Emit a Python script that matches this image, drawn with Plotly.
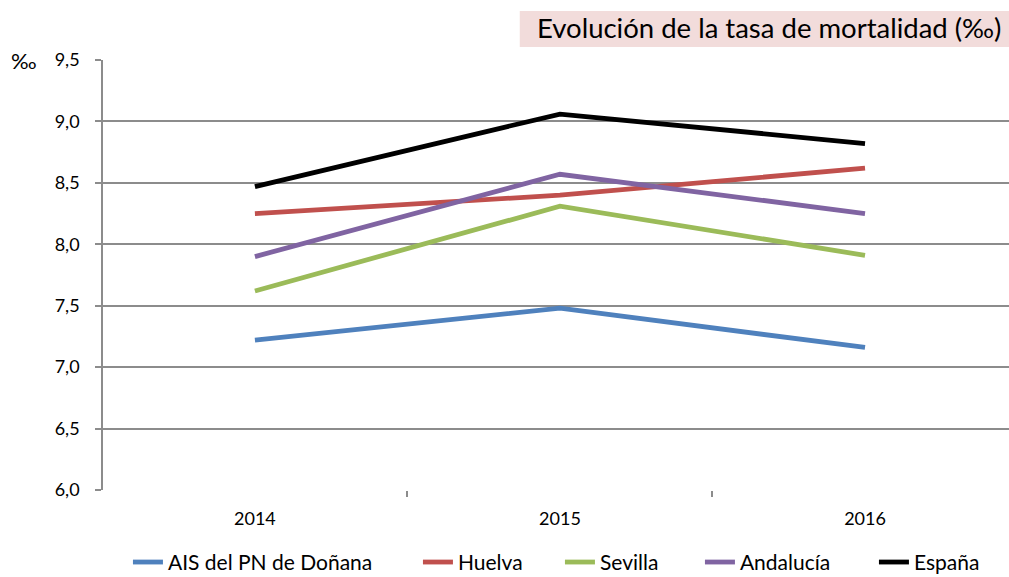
import plotly.graph_objects as go

years = ["2014", "2015", "2016"]
series_names = ["AIS del PN de Doñana", "Huelva", "Sevilla", "Andalucía", "España"]
ais = [7.22, 7.48, 7.16]
huelva = [8.25, 8.40, 8.62]
sevilla = [7.62, 8.31, 7.91]
andalucia = [7.90, 8.57, 8.25]
espana = [8.47, 9.06, 8.82]
y_ticks = [6.0, 6.5, 7.0, 7.5, 8.0, 8.5, 9.0, 9.5]

colors = ["#4F81BD", "#C0504D", "#9BBB59", "#8064A2", "#000000"]
legend_widths = [245, 97, 95, 129, 90]
values = [ais, huelva, sevilla, andalucia, espana]

FONT = "Lato"
fig = go.Figure()
for name, vals, col, lw in zip(series_names, values, colors, legend_widths):
    fig.add_trace(go.Scatter(x=years, y=vals, name=name, mode="lines",
                             line=dict(color=col, width=4.8), legendwidth=lw))

fig.update_layout(
    template="none",
    width=1009, height=577,
    margin=dict(l=103, r=0, t=60, b=87, autoexpand=False),
    paper_bgcolor="white", plot_bgcolor="white",
    separators=",.",
    font=dict(family=FONT, size=16, color="#000000"),
    showlegend=True,
    legend=dict(orientation="h", xref="container", yref="paper",
                x=0.1268, xanchor="left", y=-0.216, yanchor="bottom",
                font=dict(size=21, family=FONT), itemwidth=30,
                tracegroupgap=0, bgcolor="rgba(0,0,0,0)"),
    xaxis=dict(type="category", range=[-0.498, 2.472], showgrid=False,
               showline=False, ticks="outside", tickson="boundaries",
               ticklen=6, tickcolor="#8C8C8C", tickwidth=1.5,
               tickfont=dict(size=18, family=FONT), zeroline=False,
               automargin=False, ticklabelstandoff=16),
    yaxis=dict(range=[6.0, 9.5], tickvals=y_ticks, tickformat=".1f",
               showgrid=True, gridcolor="#8C8C8C", gridwidth=1.5,
               showline=True, linecolor="#8C8C8C", linewidth=1.5,
               ticks="outside", ticklen=6, tickcolor="#8C8C8C", tickwidth=1.5,
               tickfont=dict(size=18, family=FONT), zeroline=False,
               ticklabelstandoff=12, automargin=False),
    shapes=[
        dict(type="rect", xref="paper", yref="paper", x0=0.460, x1=1.01,
             y0=1.030, y1=1.114, fillcolor="#F2DCDB", line=dict(width=0),
             layer="below"),
    ],
    annotations=[
        dict(text="Evolución de la tasa de mortalidad (‰)", xref="paper", yref="paper",
             x=0.9934, xanchor="right", y=1.076, yanchor="middle", showarrow=False,
             font=dict(size=27.5, family=FONT, color="#000000")),
        dict(text="‰", xref="paper", yref="paper", x=-0.087, xanchor="center",
             y=1.0, yanchor="middle", showarrow=False,
             font=dict(size=22, family=FONT, color="#000000")),
    ],
)
fig.write_html("out.html", config={"displayModeBar": False},
               post_script="document.body.style.margin='0';")
